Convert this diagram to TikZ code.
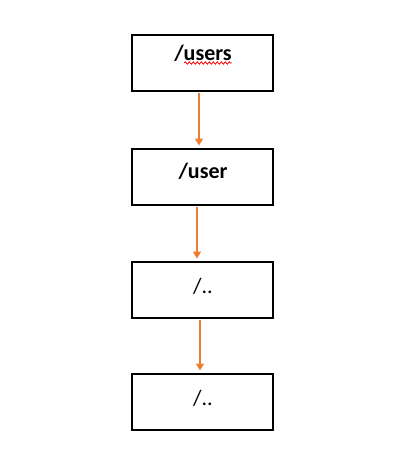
\documentclass[tikz,border=0pt]{standalone}
\usepackage{fontspec}
\setmainfont{Carlito}
\usetikzlibrary{arrows.meta,decorations.pathmorphing}
\definecolor{arrorange}{HTML}{ED7D31}
\tikzset{
  pagebox/.style={draw=black,line width=2pt,minimum width=141pt,minimum height=56pt,inner sep=0pt},
  boxlabel/.style={font=\fontsize{22}{24}\selectfont,inner sep=0pt,anchor=center},
  flow/.style={draw=arrorange,line width=2.2pt,-{Triangle[length=7pt,width=8pt]},shorten >=2pt,shorten <=1pt},
  squiggle/.style={draw=red,line width=0.8pt,decorate,decoration={snake,amplitude=1.2pt,segment length=4pt}}
}
\begin{document}
\begin{tikzpicture}[x=1pt,y=-1pt]
\useasboundingbox (0,0) rectangle (416,467);
\node[pagebox] (b1) at (202.5,63) {};
\node[pagebox] (b2) at (202.5,176.5) {};
\node[pagebox] (b3) at (202.5,289.5) {};
\node[pagebox] (b4) at (202.5,401.5) {};
\node[boxlabel,font=\fontsize{22}{24}\selectfont\bfseries] (t1) at (203,53) {/users};
\node[boxlabel,font=\fontsize{22}{24}\selectfont\bfseries] (t2) at (203,171) {/user};
\node[boxlabel] (t3) at (203,286) {/..};
\node[boxlabel] (t4) at (203,398) {/..};
\coordinate (sq1) at (t1.west |- 0,63);
\coordinate (sq2) at (t1.east |- 0,63);
\draw[squiggle] ([xshift=10pt]sq1) -- (sq2);
\draw[flow] ([xshift=-3.5pt]b1.south) -- ([xshift=-3.5pt]b2.north);
\draw[flow] ([xshift=-5.5pt]b2.south) -- ([xshift=-5.5pt]b3.north);
\draw[flow] ([xshift=-2.5pt]b3.south) -- ([xshift=-2.5pt]b4.north);
\end{tikzpicture}
\end{document}
